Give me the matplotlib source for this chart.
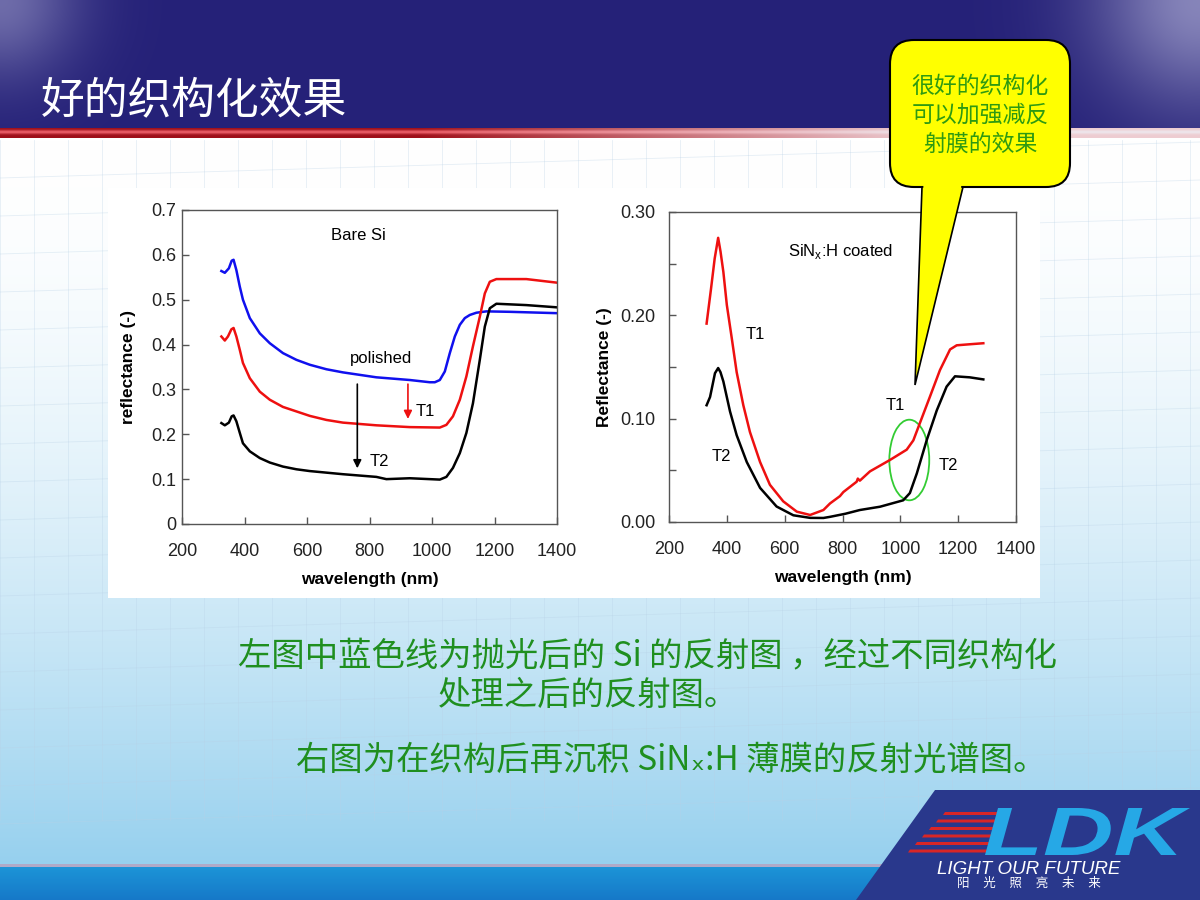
import numpy as np
import matplotlib
matplotlib.use('Agg')
import matplotlib.pyplot as plt
from matplotlib.patches import FancyBboxPatch, Polygon, Rectangle, Ellipse, PathPatch
from matplotlib.textpath import TextPath
from matplotlib.font_manager import FontProperties
from matplotlib.transforms import Affine2D

# ---------------- data ----------------
# Left chart: Bare Si
bare_polished_wl = [326, 337, 350, 359, 365, 374, 385, 395, 417, 449, 481, 523, 566, 609, 662, 715, 822, 929, 993,
                    1009, 1025, 1041, 1057, 1073, 1089, 1105, 1121, 1142, 1174, 1250, 1400]
bare_polished_r = [0.564, 0.560, 0.570, 0.587, 0.589, 0.566, 0.529, 0.500, 0.459, 0.425, 0.403, 0.381, 0.366, 0.355,
                   0.345, 0.338, 0.327, 0.321, 0.316, 0.316, 0.321, 0.340, 0.381, 0.418, 0.444, 0.459, 0.466,
                   0.471, 0.474, 0.473, 0.470]
bare_t1_wl = [326, 337, 347, 358, 365, 374, 385, 395, 417, 449, 481, 523, 566, 609, 662, 715, 822, 929, 1025, 1046,
              1067, 1089, 1110, 1131, 1153, 1169, 1185, 1206, 1302, 1400]
bare_t1_r = [0.418, 0.409, 0.418, 0.434, 0.437, 0.418, 0.388, 0.359, 0.325, 0.295, 0.277, 0.261, 0.251, 0.241, 0.232,
             0.226, 0.220, 0.216, 0.215, 0.221, 0.240, 0.277, 0.329, 0.396, 0.462, 0.514, 0.540, 0.546, 0.546, 0.538]
bare_t2_wl = [326, 337, 350, 359, 365, 374, 385, 395, 417, 449, 481, 523, 566, 609, 715, 822, 854, 929, 1025, 1046,
              1067, 1089, 1110, 1131, 1153, 1169, 1185, 1206, 1302, 1400]
bare_t2_r = [0.225, 0.220, 0.226, 0.240, 0.242, 0.229, 0.203, 0.180, 0.162, 0.147, 0.137, 0.128, 0.122, 0.118, 0.111,
             0.105, 0.100, 0.102, 0.099, 0.105, 0.125, 0.158, 0.203, 0.269, 0.366, 0.440, 0.481, 0.491, 0.488, 0.483]

# Right chart: SiNx:H coated
coat_t1_wl = [330, 345, 358, 370, 378, 388, 400, 417, 434, 457, 480, 515, 549, 595, 642, 688, 734, 757, 791, 803,
              849, 853, 860, 895, 964, 1022, 1045, 1068, 1102, 1137, 1172, 1195, 1240, 1287]
coat_t1_r = [0.192, 0.225, 0.255, 0.275, 0.262, 0.242, 0.210, 0.178, 0.145, 0.113, 0.087, 0.058, 0.036, 0.020, 0.010,
             0.0068, 0.0116, 0.018, 0.025, 0.029, 0.039, 0.042, 0.040, 0.049, 0.060, 0.070, 0.079, 0.096, 0.121,
             0.147, 0.167, 0.171, 0.172, 0.173]
coat_t2_wl = [330, 342, 359, 370, 378, 388, 411, 434, 469, 515, 572, 630, 688, 734, 757, 810, 860, 930, 1010, 1033,
              1057, 1091, 1126, 1160, 1189, 1240, 1287]
coat_t2_r = [0.113, 0.121, 0.144, 0.149, 0.145, 0.136, 0.107, 0.084, 0.058, 0.033, 0.015, 0.0065, 0.004, 0.0039,
             0.005, 0.008, 0.0116, 0.0148, 0.021, 0.028, 0.047, 0.079, 0.108, 0.131, 0.141, 0.140, 0.138]

left_yticks = [0, 0.1, 0.2, 0.3, 0.4, 0.5, 0.6, 0.7]
left_yticklabels = ['0', '0.1', '0.2', '0.3', '0.4', '0.5', '0.6', '0.7']
right_yticks = [0.0, 0.10, 0.20, 0.30]
right_yticklabels = ['0.00', '0.10', '0.20', '0.30']
xticks = [200, 400, 600, 800, 1000, 1200, 1400]

title_text = '好的织构化效果'
callout_lines = ['很好的织构化', '可以加强减反', '射膜的效果']
note_line1 = '左图中蓝色线为抛光后的 Si 的反射图 ，经过不同织构化'
note_line2 = '处理之后的反射图。'
note_line3 = '右图为在织构后再沉积 SiNₓ:H 薄膜的反射光谱图。'

CJK = ['Noto Sans CJK SC', 'DejaVu Sans']
CHART = 'Liberation Sans'

W, H = 1200, 900
fig = plt.figure(figsize=(12, 9), dpi=100)

# ---------------- background ----------------
bg = fig.add_axes([0, 0, 1, 1], zorder=0)
bg.set_xlim(0, W)
bg.set_ylim(H, 0)
bg.axis('off')

yy, xx = np.mgrid[0:H, 0:W].astype(float)
img = np.ones((H, W, 3))
t = np.clip((yy - 140) / 725.0, 0, 1) ** 1.7
top_c = np.array([1.0, 1.0, 1.0])
bot_c = np.array([150, 208, 238]) / 255.0
img[:] = top_c[None, None, :] * (1 - t[..., None]) + bot_c[None, None, :] * t[..., None]
# header
navy = np.array([37, 33, 120]) / 255.0
hdr = yy < 128
glow = 0.45 * np.exp(-((xx) ** 2 + (yy) ** 2) / (2 * 55.0 ** 2)) + 0.6 * np.exp(-((xx - W) ** 2 + (yy) ** 2) / (2 * 75.0 ** 2))
glow = np.clip(glow, 0, 1)
hdr_col = navy[None, None, :] * (1 - glow[..., None]) + np.array([0.78, 0.78, 0.90])[None, None, :] * glow[..., None]
img[hdr] = hdr_col[hdr]
# red stripe
stripe = (yy >= 128) & (yy < 138)
fx = np.clip((xx - 420) / 500.0, 0, 1)
row = (yy - 128) / 10.0
hl = np.exp(-((row - 0.35) / 0.2) ** 2)
dark_red = np.stack([0.62 + 0.3 * hl, 0.06 + 0.3 * hl, 0.10 + 0.3 * hl], -1)
pink = np.stack([0.93 + 0 * row, 0.80 + 0.1 * hl, 0.82 + 0.1 * hl], -1)
st_col = dark_red * (1 - fx[..., None]) + pink * fx[..., None]
img[stripe] = st_col[stripe]
# bottom line and bar
img[(yy >= 864) & (yy < 867)] = np.array([175, 170, 200]) / 255.0
bar = yy >= 867
tb = np.clip((yy - 867) / 33.0, 0, 1)
bar_col = np.array([28, 148, 215])[None, None, :] / 255.0 * (1 - tb[..., None]) + np.array([22, 120, 200])[None, None, :] / 255.0 * tb[..., None]
img[bar] = bar_col[bar]
bg.imshow(img, extent=[0, W, H, 0], aspect='auto', interpolation='bilinear', zorder=0)

# faint grid
for gx in np.arange(0, W, 34):
    bg.plot([gx, gx], [140, 820], color=(0.72, 0.82, 0.90), lw=0.6, alpha=0.35, zorder=1)
for gy in np.arange(160, 820, 38):
    bg.plot([0, W], [gy + 18, gy - 18], color=(0.72, 0.82, 0.90), lw=0.6, alpha=0.35, zorder=1)

# white panel behind charts
bg.add_patch(Rectangle((108, 188), 932, 410, facecolor='white', edgecolor='none', zorder=2))

# logo block
bg.add_patch(Polygon([(935, 790), (1200, 790), (1200, 900), (856, 900)], closed=True,
                     facecolor=(0.16, 0.22, 0.55), edgecolor='none', zorder=3))
for i in range(6):
    yv = 812 + i * 7.5
    x0 = 945 - i * 7
    x1 = 1000 - i * 2
    bg.add_patch(Polygon([(x0, yv), (x1, yv), (x1 - 2, yv + 3), (x0 - 2, yv + 3)], closed=True,
                         facecolor=(0.85, 0.15, 0.15), edgecolor='none', zorder=4))
tp = TextPath((0, 0), 'LDK', size=1, prop=FontProperties(family='Liberation Sans', weight='bold', style='italic'))
ext = tp.get_extents()
sx = 205.0 / ext.width
sy = 47.0 / ext.height
tr = Affine2D().translate(-ext.x0, -ext.y0).scale(sx, -sy).translate(985, 855)
bg.add_patch(PathPatch(tr.transform_path(tp), facecolor=(0.15, 0.66, 0.90), edgecolor='none', zorder=5))
bg.text(1029, 869, 'LIGHT OUR FUTURE', color='white', fontsize=13.5, style='italic', family='Liberation Sans',
        ha='center', va='center', zorder=5)
bg.text(1029, 883, '阳     光     照     亮     未     来', color='white', fontsize=9, family=CJK,
        ha='center', va='center', zorder=5)

# title
bg.text(41, 100, title_text, color='white', fontsize=31.5, family=CJK, ha='left', va='center', zorder=5)

# notes
green = '#1f8f1f'
bg.text(238, 657, note_line1, color=green, fontsize=24, family=CJK, ha='left', va='center', zorder=5)
bg.text(438, 695, note_line2, color=green, fontsize=24, family=CJK, ha='left', va='center', zorder=5)
bg.text(296, 760, note_line3, color=green, fontsize=24, family=CJK, ha='left', va='center', zorder=5)


# ---------------- charts ----------------
def style_axes(ax, ypad):
    for s in ax.spines.values():
        s.set_color('#555555')
        s.set_linewidth(1.0)
    ax.tick_params(direction='in', top=False, right=False, length=5, width=1, colors='#555555',
                   labelcolor='#222222', labelsize=13)
    ax.tick_params(axis='x', pad=14)
    ax.tick_params(axis='y', pad=ypad)
    for lab in ax.get_xticklabels() + ax.get_yticklabels():
        lab.set_family(CHART)


axL = fig.add_axes([182 / W, 1 - 524 / H, (557 - 182) / W, (524 - 210) / H], zorder=1)
axL.plot(bare_polished_wl, bare_polished_r, color='#1010ee', lw=1.8)
axL.plot(bare_t1_wl, bare_t1_r, color='#ee1010', lw=1.8)
axL.plot(bare_t2_wl, bare_t2_r, color='black', lw=1.8)
axL.set_xlim(200, 1400)
axL.set_ylim(0, 0.7)
axL.set_xticks(xticks)
axL.set_yticks(left_yticks)
axL.set_yticklabels(left_yticklabels)
style_axes(axL, 4)
axL.set_xlabel('wavelength (nm)', fontsize=12.5, fontweight='bold', family=CHART, labelpad=8)
axL.set_ylabel('reflectance (-)', fontsize=12.5, fontweight='bold', family=CHART, labelpad=11)
axL.text(763, 0.644, 'Bare Si', fontsize=12, family=CHART, ha='center', va='center')
axL.text(838, 0.370, 'polished', fontsize=12, family=CHART, ha='center', va='center')
axL.text(977, 0.251, 'T1', fontsize=12, family=CHART, ha='center', va='center')
axL.text(833, 0.140, 'T2', fontsize=12, family=CHART, ha='center', va='center')
axL.annotate('', xy=(761, 0.118), xytext=(761, 0.318),
             arrowprops=dict(arrowstyle='-|>', color='black', lw=1.2, mutation_scale=12))
axL.annotate('', xy=(923, 0.228), xytext=(923, 0.318),
             arrowprops=dict(arrowstyle='-|>', color='#ee1010', lw=1.2, mutation_scale=12))

axR = fig.add_axes([669 / W, 1 - 522 / H, (1016 - 669) / W, (522 - 212) / H], zorder=1)
axR.plot(coat_t1_wl, coat_t1_r, color='#ee1010', lw=1.8)
axR.plot(coat_t2_wl, coat_t2_r, color='black', lw=1.8)
axR.set_xlim(200, 1400)
axR.set_ylim(0, 0.30)
axR.set_xticks(xticks)
axR.set_yticks(right_yticks)
axR.set_yticklabels(right_yticklabels)
axR.set_yticks([0.05, 0.15, 0.25], minor=True)
style_axes(axR, 10)
axR.tick_params(which='minor', direction='in', length=5, width=1, colors='#555555')
axR.set_xlabel('wavelength (nm)', fontsize=12.5, fontweight='bold', family=CHART, labelpad=8)
axR.set_ylabel('Reflectance (-)', fontsize=12.5, fontweight='bold', family=CHART, labelpad=6)
axR.text(792, 0.262, 'SiN$_\\mathregular{x}$:H coated', fontsize=12, family=CHART, ha='center', va='center')
axR.text(498, 0.181, 'T1', fontsize=12, family=CHART, ha='center', va='center')
axR.text(380, 0.063, 'T2', fontsize=12, family=CHART, ha='center', va='center')
axR.text(982, 0.113, 'T1', fontsize=12, family=CHART, ha='center', va='center')
axR.text(1167, 0.055, 'T2', fontsize=12, family=CHART, ha='center', va='center')
axR.add_patch(Ellipse((1031, 0.060), width=138, height=0.078, fill=False, edgecolor='#33cc33', lw=1.3))

# ---------------- overlay callout ----------------
ov = fig.add_axes([0, 0, 1, 1], zorder=3)
ov.set_xlim(0, W)
ov.set_ylim(H, 0)
ov.axis('off')
ov.patch.set_alpha(0)
yellow = '#ffff00'
ov.add_patch(FancyBboxPatch((890, 40), 180, 147, boxstyle='round,pad=0,rounding_size=24',
                            facecolor=yellow, edgecolor='black', lw=1.5, zorder=1))
ov.add_patch(Polygon([(922, 187), (963, 187), (915, 385)], closed=True, facecolor=yellow,
                     edgecolor='black', lw=1.2, zorder=2))
ov.add_patch(Polygon([(923.5, 182), (961.5, 182), (961.0, 189.5), (923.3, 189.5)], closed=True,
                     facecolor=yellow, edgecolor='none', zorder=3))
for i, line in enumerate(callout_lines):
    ov.text(980, 86 + i * 29, line, color='#2e9a12', fontsize=16.5, family=CJK, ha='center', va='center', zorder=4)

fig.savefig('out.png', dpi=100)
